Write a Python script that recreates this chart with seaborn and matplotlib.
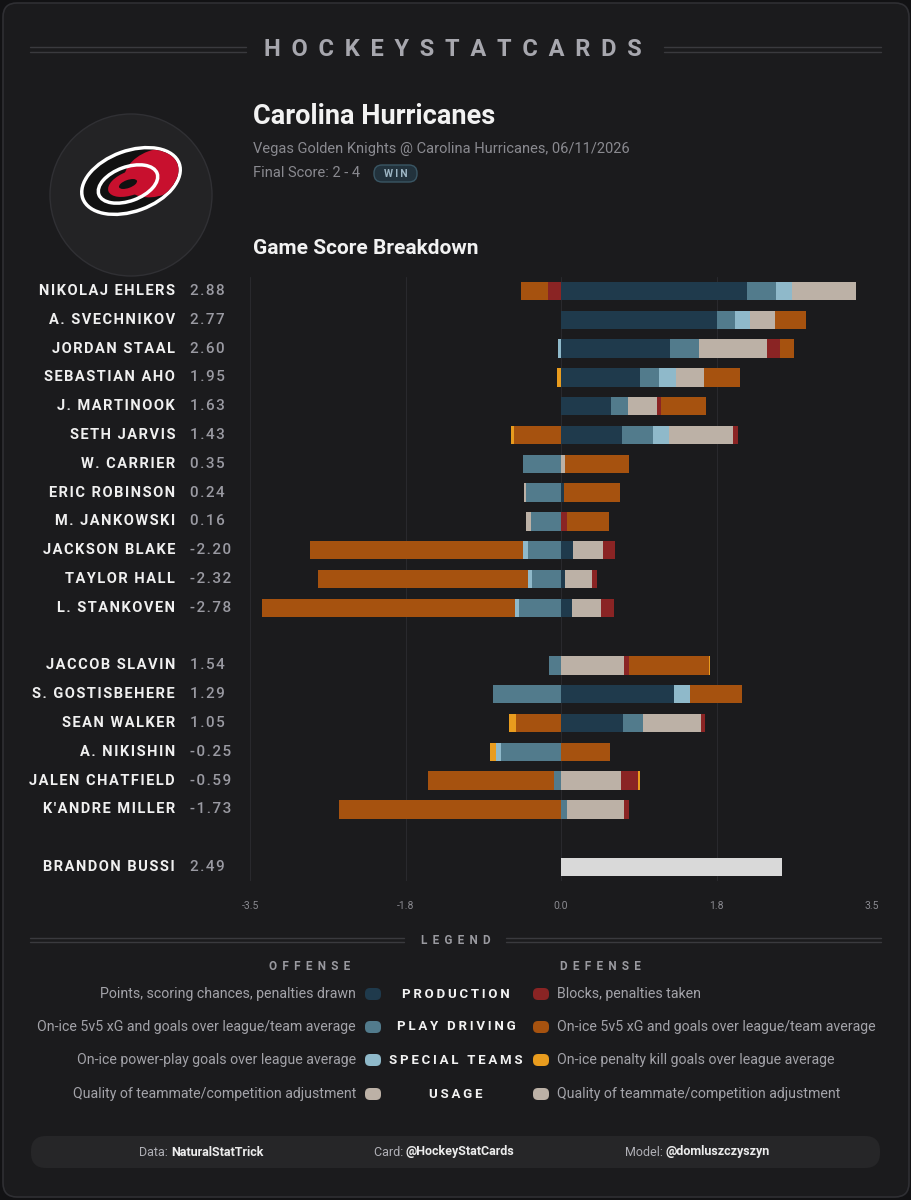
import numpy as np
import seaborn as sns
import matplotlib.pyplot as plt
from matplotlib import transforms
from matplotlib.patches import FancyBboxPatch, Circle, Ellipse

# ---- data ----
players = ['NIKOLAJ EHLERS', 'A. SVECHNIKOV', 'JORDAN STAAL', 'SEBASTIAN AHO',
           'J. MARTINOOK', 'SETH JARVIS', 'W. CARRIER', 'ERIC ROBINSON',
           'M. JANKOWSKI', 'JACKSON BLAKE', 'TAYLOR HALL', 'L. STANKOVEN',
           'JACCOB SLAVIN', 'S. GOSTISBEHERE', 'SEAN WALKER', 'A. NIKISHIN',
           'JALEN CHATFIELD', "K'ANDRE MILLER", 'BRANDON BUSSI']
game_scores = [2.88, 2.77, 2.60, 1.95, 1.63, 1.43, 0.35, 0.24, 0.16, -2.20,
               -2.32, -2.78, 1.54, 1.29, 1.05, -0.25, -0.59, -1.73, 2.49]
groups = ['F'] * 12 + ['D'] * 6 + ['G']

production = [2.09, 1.75, 1.23, 0.89, 0.56, 0.69, 0.00, 0.03, 0.00, 0.14,
              0.05, 0.12, 0.00, 1.27, 0.70, 0.00, 0.00, 0.00, 0.00]
play_driving = [0.33, 0.21, 0.32, 0.21, 0.19, 0.34, -0.43, -0.39, -0.34, -0.37,
                -0.33, -0.47, -0.14, -0.76, 0.22, -0.68, -0.08, 0.07, 0.00]
special_teams = [0.18, 0.17, -0.03, 0.19, 0.00, 0.19, 0.00, 0.00, 0.00, -0.06,
                 -0.04, -0.05, 0.00, 0.18, 0.00, -0.05, 0.00, 0.00, 0.00]
usage = [0.72, 0.28, 0.77, 0.32, 0.33, 0.72, 0.05, -0.03, -0.05, 0.33,
         0.30, 0.33, 0.71, 0.00, 0.65, 0.00, 0.67, 0.64, 0.00]
blocks = [-0.15, 0.00, 0.14, 0.00, 0.05, 0.05, 0.00, 0.00, 0.07, 0.14,
          0.05, 0.15, 0.05, 0.00, 0.05, 0.00, 0.20, 0.05, 0.00]
def_5v5 = [-0.30, 0.35, 0.16, 0.40, 0.50, -0.53, 0.72, 0.63, 0.47, -2.39,
           -2.36, -2.85, 0.91, 0.59, -0.51, 0.55, -1.42, -2.50, 0.00]
penalty_kill = [0.00, 0.00, 0.00, -0.04, 0.00, -0.03, 0.00, 0.00, 0.00, 0.00,
                0.00, 0.00, 0.01, 0.00, -0.07, -0.07, 0.02, 0.00, 0.00]
goalie = [0.0] * 18 + [2.49]

tick_values = [-3.5, -1.75, 0.0, 1.75, 3.5]
tick_labels = ['-3.5', '-1.8', '0.0', '1.8', '3.5']

legend_rows = ['PRODUCTION', 'PLAY DRIVING', 'SPECIAL TEAMS', 'USAGE']
offense_desc = ['Points, scoring chances, penalties drawn',
                'On-ice 5v5 xG and goals over league/team average',
                'On-ice power-play goals over league average',
                'Quality of teammate/competition adjustment']
defense_desc = ['Blocks, penalties taken',
                'On-ice 5v5 xG and goals over league/team average',
                'On-ice penalty kill goals over league average',
                'Quality of teammate/competition adjustment']

# ---- style ----
BG = '#1b1b1d'
C_PROD = '#1f3a4c'
C_PD = '#527b8c'
C_ST = '#8fb9ca'
C_USE = '#bcb1a6'
C_BLK = '#8a2424'
C_D5 = '#a6520f'
C_PK = '#e99c1e'
C_G = '#d9d9d9'

sns.set_style('dark', {'axes.facecolor': 'none', 'figure.facecolor': '#121214'})
plt.rcParams['font.family'] = ['Roboto', 'DejaVu Sans']

fig = plt.figure(figsize=(9.12, 12), dpi=100)

# overlay in pixel coordinates for card decoration and text
bg = fig.add_axes([0, 0, 1, 1], zorder=0)
bg.set_xlim(0, 912)
bg.set_ylim(1200, 0)
bg.axis('off')

bg.add_patch(FancyBboxPatch((3, 3), 906, 1194, boxstyle='round,pad=0,rounding_size=14',
                            fc=BG, ec='#2f2f33', lw=1.2))

def spaced(s, sep=' '):
    return sep.join(list(s))

# header
for yy in (47, 52):
    bg.plot([30, 246], [yy, yy], color='#3a3a3e', lw=1)
    bg.plot([664, 881], [yy, yy], color='#3a3a3e', lw=1)
bg.text(453, 50, spaced('HOCKEYSTATCARDS', '\u2009 '), ha='center', va='center',
        fontsize=17, fontweight='bold', color='#a7a7ae')

# logo
bg.add_patch(Circle((131, 195), 81, fc='#232325', ec='#303034', lw=1))
el_kw = dict(angle=-20)
bg.add_patch(Ellipse((131, 181), 106, 64, fc='white', ec='none', **el_kw))
black = Ellipse((131, 181), 99, 57, fc='#111111', ec='none', **el_kw)
bg.add_patch(black)
red = Ellipse((156, 173), 66, 46, fc='#c8102e', ec='none', **el_kw)
bg.add_patch(red)
red.set_clip_path(black)
bg.add_patch(Ellipse((128, 184), 62, 34, fc='none', ec='white', lw=2.5, **el_kw))
bg.add_patch(Ellipse((131, 183), 48, 24, fc='#c8102e', ec='none', **el_kw))
bg.add_patch(Ellipse((128, 184), 19, 8, fc='#111111', ec='none', **el_kw))

# titles
bg.text(253, 117, 'Carolina Hurricanes', ha='left', va='center', fontsize=19.5,
        fontweight='bold', color='#f2f2f2')
bg.text(253, 149, 'Vegas Golden Knights @ Carolina Hurricanes, 06/11/2026', ha='left',
        va='center', fontsize=10.5, color='#8a8a90')
bg.text(253, 173, 'Final Score: 2 - 4', ha='left', va='center', fontsize=10.5,
        color='#8a8a90')
bg.add_patch(FancyBboxPatch((374, 165), 43, 17, boxstyle='round,pad=0,rounding_size=8',
                            fc='#22323c', ec='#3a5664', lw=1))
bg.text(395.5, 174, spaced('WIN', '\u2009'), ha='center', va='center', fontsize=7.5,
        fontweight='bold', color='#9db6c4')
bg.text(253, 248, 'Game Score Breakdown', ha='left', va='center', fontsize=15,
        fontweight='bold', color='#f2f2f2')

# ---- chart ----
positions = []
slot = 0
prev = groups[0]
for g in groups:
    if g != prev:
        slot += 1
        prev = g
    positions.append(slot)
    slot += 1
n_slots = positions[-1] + 1

ax = fig.add_axes([250 / 912, 1 - 881.4 / 1200, 622 / 912, 604.8 / 1200], zorder=1)
ax.set_facecolor('none')

components = [(production, C_PROD), (play_driving, C_PD), (special_teams, C_ST),
              (usage, C_USE), (blocks, C_BLK), (def_5v5, C_D5), (penalty_kill, C_PK),
              (goalie, C_G)]
vals = np.array([c[0] for c in components])
pos_cum = np.clip(vals, 0, None).cumsum(axis=0)
neg_cum = np.clip(vals, None, 0).cumsum(axis=0)

for xv in tick_values:
    ax.axvline(xv, color='#29292d', lw=0.8, zorder=0)

# outer layers first, inner segments drawn on top
for k in reversed(range(len(components))):
    color = components[k][1]
    for cum in (pos_cum[k], neg_cum[k]):
        sns.barplot(x=cum, y=positions, orient='h', native_scale=True, color=color,
                    saturation=1, width=0.64, errorbar=None, linewidth=0, ax=ax)

ax.set_xlim(-3.5, 3.5)
ax.set_ylim(n_slots - 0.5, -0.5)
ax.set_yticks([])
ax.set_xticks(tick_values)
ax.set_xticklabels(tick_labels)
ax.tick_params(axis='x', length=0, pad=14, labelsize=7.5, labelcolor='#8a8a90')
ax.set_xlabel('')
ax.set_ylabel('')
ax.grid(False)
for sp in ax.spines.values():
    sp.set_visible(False)

lbl_tr = transforms.blended_transform_factory(fig.transFigure, ax.transData)
for name, gs, p in zip(players, game_scores, positions):
    ax.text(175 / 912, p, spaced(name, '\u200a'), transform=lbl_tr, ha='right',
            va='center', fontsize=10.5, fontweight='bold', color='#f0f0f0')
    ax.text(190 / 912, p, spaced(f'{gs:.2f}', '\u200a'), transform=lbl_tr, ha='left',
            va='center', fontsize=11, fontweight='medium', color='#9a9aa2')

# ---- legend ----
for yy in (938, 942):
    bg.plot([30, 404], [yy, yy], color='#3a3a3e', lw=1)
    bg.plot([506, 881], [yy, yy], color='#3a3a3e', lw=1)
bg.text(456, 940, spaced('LEGEND', '\u2009 '), ha='center', va='center', fontsize=8.5,
        fontweight='bold', color='#9a9aa0')
bg.text(310, 966, spaced('OFFENSE', '\u2009 '), ha='center', va='center', fontsize=8.5,
        fontweight='bold', color='#9a9aa0')
bg.text(600, 966, spaced('DEFENSE', '\u2009 '), ha='center', va='center', fontsize=8.5,
        fontweight='bold', color='#9a9aa0')

off_colors = [C_PROD, C_PD, C_ST, C_USE]
def_colors = [C_BLK, C_D5, C_PK, C_USE]
row_y = [994, 1027, 1060, 1094]
for lab, od, dd, oc, dc, yy in zip(legend_rows, offense_desc, defense_desc,
                                  off_colors, def_colors, row_y):
    bg.text(356, yy, od, ha='right', va='center', fontsize=10.2, color='#a3a3a9')
    bg.add_patch(FancyBboxPatch((365, yy - 6), 16, 12,
                                boxstyle='round,pad=0,rounding_size=5', fc=oc, ec='none'))
    bg.text(456, yy, spaced(lab, '\u2009'), ha='center', va='center', fontsize=9.5,
            fontweight='bold', color='#f2f2f2')
    bg.add_patch(FancyBboxPatch((533, yy - 6), 16, 12,
                                boxstyle='round,pad=0,rounding_size=5', fc=dc, ec='none'))
    bg.text(557, yy, dd, ha='left', va='center', fontsize=10.2, color='#a3a3a9')

# ---- footer ----
bg.add_patch(FancyBboxPatch((31, 1136), 849, 32, boxstyle='round,pad=0,rounding_size=15',
                            fc='#262628', ec='none'))
footer = [('Data: ', 'NaturalStatTrick', 171), ('Card: ', '@HockeyStatCards', 406),
          ('Model: ', '@domluszczyszyn', 666)]
for lab, val, xs in footer:
    bg.text(xs, 1152, lab, ha='right', va='center', fontsize=9, color='#b0b0b6')
    bg.text(xs, 1152, val, ha='left', va='center', fontsize=9, fontweight='bold',
            color='#ececec')

fig.savefig('out.png', dpi=100, facecolor=fig.get_facecolor())
